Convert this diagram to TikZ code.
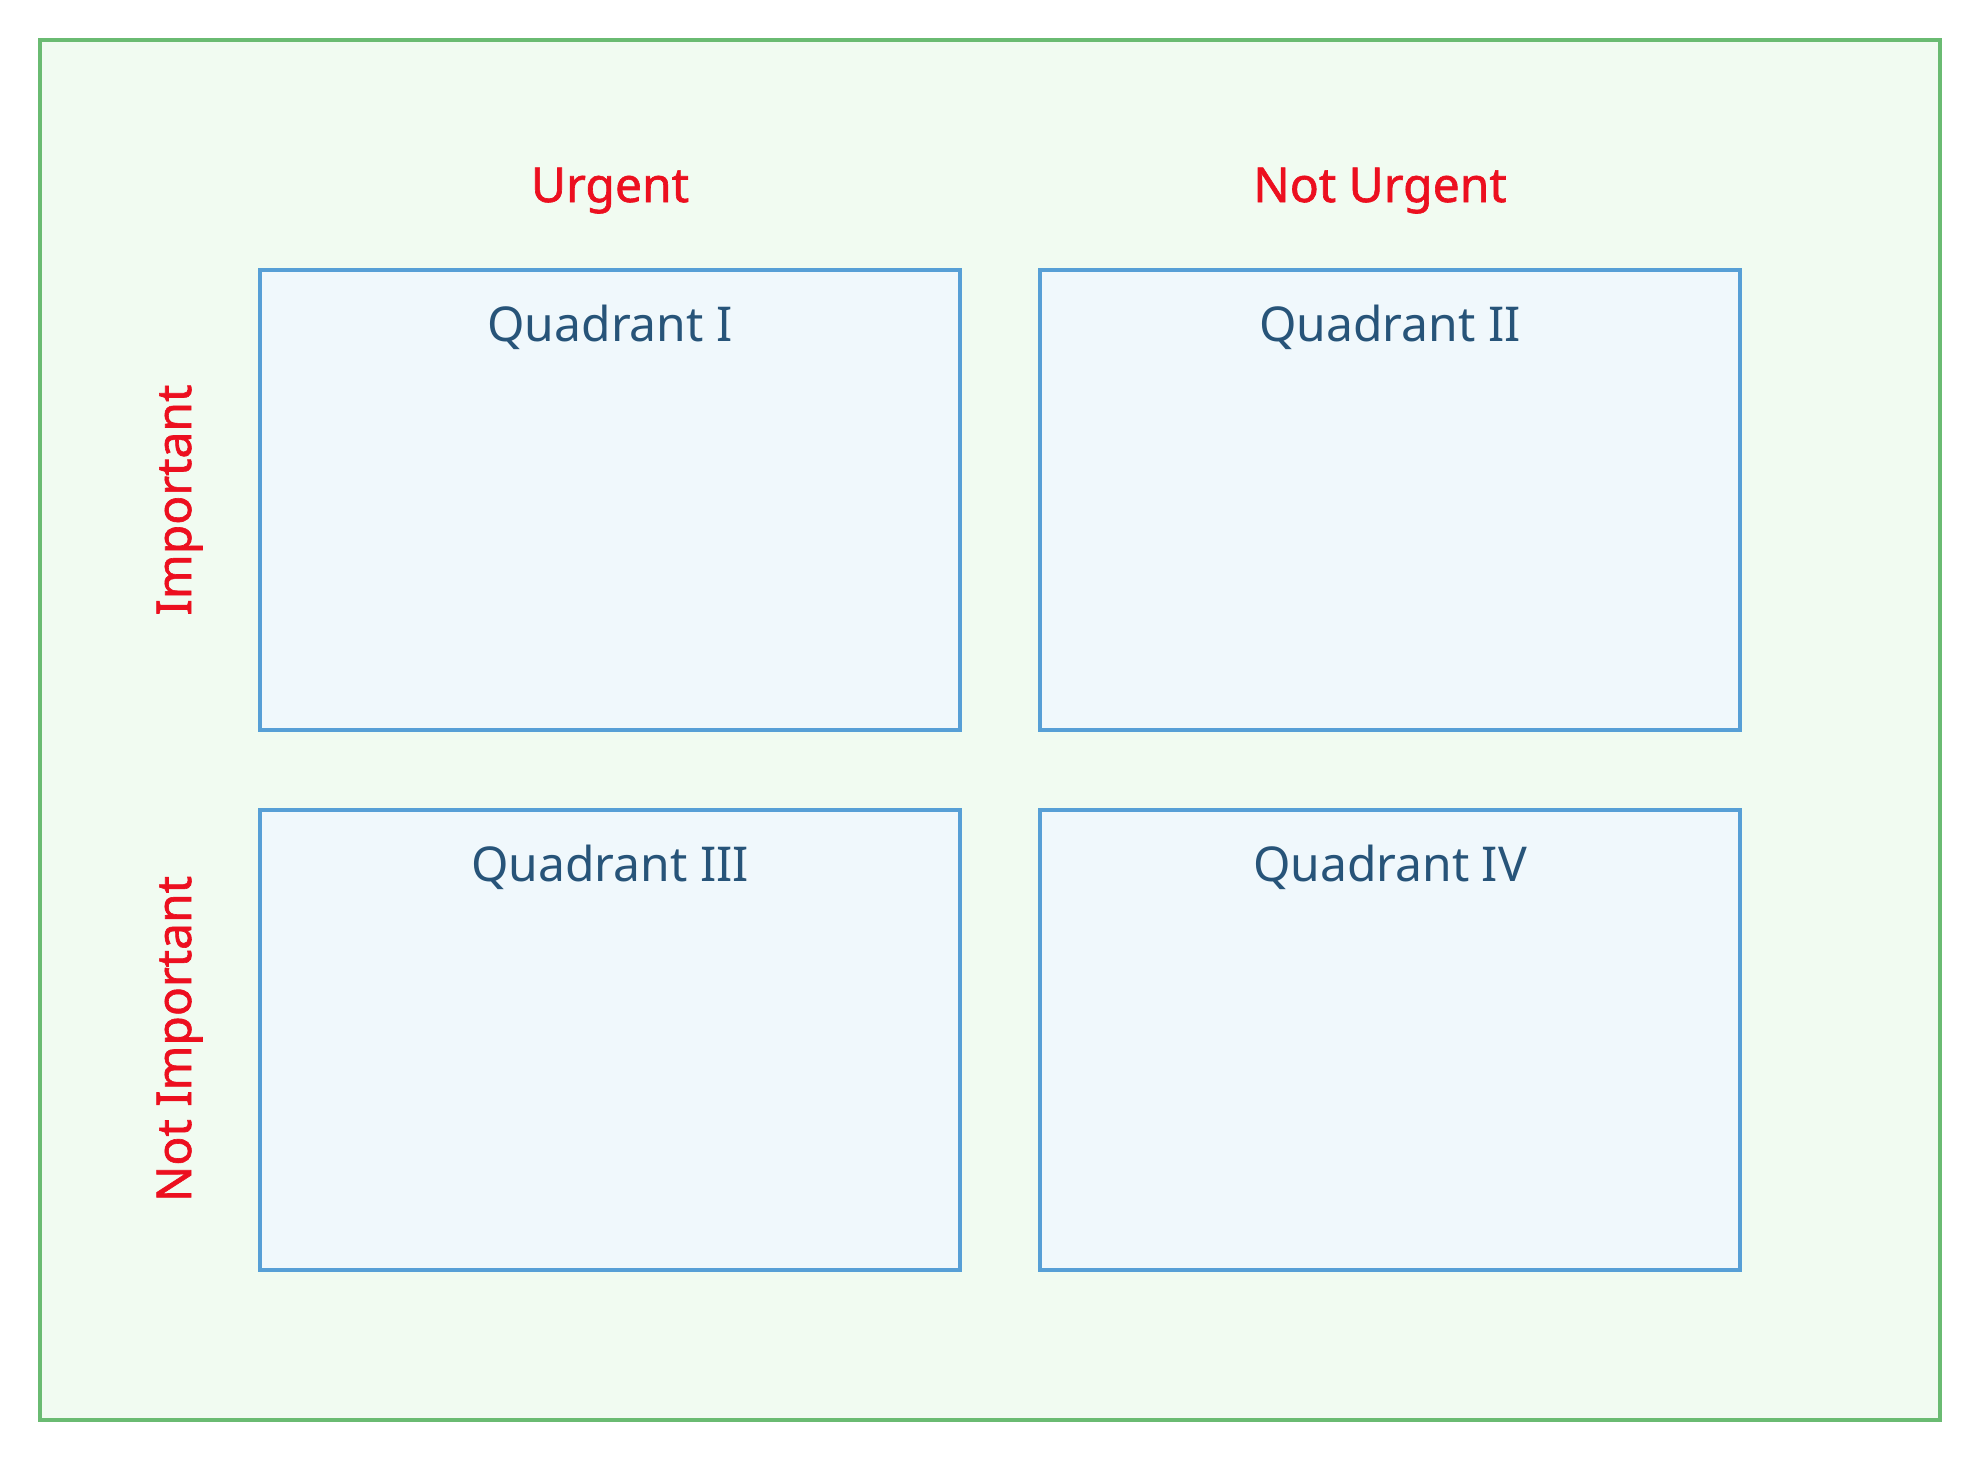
\documentclass[tikz,border=0pt]{standalone}
\usepackage{fontspec}
\setmainfont{Noto Sans}
\newfontfamily\axisfont[FakeBold=1.3]{Noto Sans}
\definecolor{outerline}{HTML}{6ABB72}
\definecolor{outerfill}{HTML}{F1FBF1}
\definecolor{quadline}{HTML}{579FD6}
\definecolor{quadfill}{HTML}{F0F8FC}
\definecolor{quadtext}{HTML}{275479}
\definecolor{axisred}{HTML}{EC0F1F}
\tikzset{
  outerbox/.style={draw=outerline, fill=outerfill, line width=4pt},
  quadbox/.style={draw=quadline, fill=quadfill, line width=4pt, inner sep=0pt, minimum width=700pt, minimum height=460pt},
  quadtitle/.style={text=quadtext, font=\fontsize{48pt}{56pt}\selectfont, anchor=base, inner sep=0pt},
  axislabel/.style={text=axisred, font=\axisfont\fontsize{48pt}{56pt}\selectfont, anchor=base, inner sep=0pt},
}
\begin{document}
\begin{tikzpicture}[x=1pt,y=-1pt]
\useasboundingbox (0,0) rectangle (1980,1460);
\fill[white] (0,0) rectangle (1980,1460);
\draw[outerbox] (40,40) rectangle (1940,1420);
\node[quadbox] (q1) at (610,500) {};
\node[quadbox] (q2) at (1390,500) {};
\node[quadbox] (q3) at (610,1040) {};
\node[quadbox] (q4) at (1390,1040) {};
\node[quadtitle] (t1) at (610,341) {Quadrant I};
\node[quadtitle] (t2) at (1390,341) {Quadrant II};
\node[quadtitle] (t3) at (610,881) {Quadrant III};
\node[quadtitle] (t4) at (1390,881) {Quadrant IV};
\node[axislabel] (urg) at (610,202) {Urgent};
\node[axislabel] (nurg) at (1380,202) {Not Urgent};
\node[axislabel, rotate=90] (imp) at (191,500) {Important};
\node[axislabel, rotate=90] (nimp) at (191,1039) {Not Important};
\end{tikzpicture}
\end{document}
